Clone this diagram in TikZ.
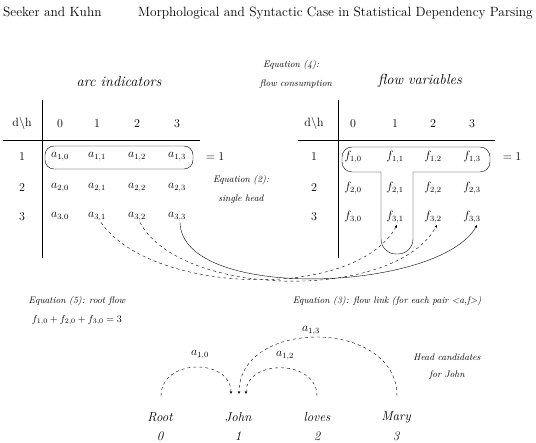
\documentclass[tikz,border=0pt]{standalone}
\usepackage{fontspec}
\usetikzlibrary{arrows.meta}
\begin{document}
\begin{tikzpicture}[x=1pt,y=-1pt,
  lbl/.style={font=\fontsize{9.5}{11}\selectfont\itshape, inner sep=0pt},
  ttl/.style={font=\fontsize{14.5}{17}\selectfont\itshape, inner sep=0pt},
  cell/.style={font=\fontsize{11.5}{13}\selectfont, inner sep=1pt},
  hd/.style={font=\fontsize{12}{14}\selectfont, inner sep=1pt},
  word/.style={font=\fontsize{13}{15}\selectfont\itshape, inner sep=1pt},
  eqtxt/.style={font=\fontsize{10}{12}\selectfont, inner sep=0pt},
  hdr/.style={font=\fontsize{13.4}{15}\selectfont, inner sep=0pt},
  link/.style={-{Stealth[length=3pt,width=2.5pt]}, thin},
  dlink/.style={link, dashed},
  rule/.style={thin},
]
\useasboundingbox (0,0) rectangle (536,443);

% header
\node[anchor=base west, hdr] (hleft) at (3,17) {Seeker and Kuhn};
\node[anchor=base east, hdr] (hright) at (533,17) {Morphological and Syntactic Case in Statistical Dependency Parsing};

% titles
\node[ttl] (arctitle) at (119,82) {arc indicators};
\node[ttl] (flowtitle) at (420,81) {flow variables};
\node[lbl] (eq4a) at (291,65) {Equation (4):};
\node[lbl] (eq4b) at (296,84) {flow consumption};
\node[lbl] (eq2a) at (241,180) {Equation (2):};
\node[lbl] (eq2b) at (241,199) {single head};

% left table
\draw[rule] (42,100) -- (42,258);
\draw[rule] (3,140) -- (200,140);
\node[hd] (adh) at (22,124) {d\textbackslash h};
\foreach \c/\x in {0/60,1/97,2/137,3/177} {
  \node[hd] (ac\c) at (\x,124) {\c};
}
\foreach \r/\y in {1/157,2/188,3/217} {
  \node[hd] (ar\r) at (22,\y) {\r};
  \foreach \c/\x in {0/60,1/97,2/137,3/177} {
    \node[cell] (a\r\c) at (\x,\y) {$a_{\r,\c}$};
  }
}
\draw[rule, rounded corners=9pt] (45,146) rectangle (193,169);
\node[cell] (aeq) at (215,157) {$=1$};

% right table
\draw[rule] (338,100) -- (338,258);
\draw[rule] (298,140) -- (495,140);
\node[hd] (fdh) at (314,124) {d\textbackslash h};
\foreach \c/\x in {0/353,1/395,2/433,3/472} {
  \node[hd] (fc\c) at (\x,124) {\c};
}
\foreach \r/\y in {1/157,2/188,3/217} {
  \node[hd] (fr\r) at (314,\y) {\r};
  \foreach \c/\x in {0/353,1/395,2/433,3/472} {
    \node[cell] (f\r\c) at (\x,\y) {$f_{\r,\c}$};
  }
}
\draw[rule] (381,172) [rounded corners=10pt] -- (342,172) -- (342,147) -- (490,147) -- (490,172) [sharp corners] -- (413,172)
  [rounded corners=15pt] -- (413,254) -- (381,254) [sharp corners] -- cycle;
\node[cell] (feq) at (512,157) {$=1$};

% flow links
\coordinate (s31) at ([xshift=4pt]a31.south);
\coordinate (s32) at ([xshift=3pt]a32.south);
\coordinate (s33) at ([xshift=3pt]a33.south);
\coordinate (t31) at ([xshift=2pt,yshift=-1pt]f31.south);
\coordinate (t32) at ([xshift=4pt,yshift=-1pt]f32.south);
\coordinate (t33) at ([xshift=5pt,yshift=-1pt]f33.south);
\draw[dlink] (s31) .. controls (150,294) and (355,302) .. (t31);
\draw[dlink] (s32) .. controls (180,298) and (395,302) .. (t32);
\draw[link] (s33) .. controls (182,302) and (440,292) .. (t33);

% equations
\node[lbl] (eq5) at (77,301) {Equation (5): root flow};
\node[eqtxt] (eq5f) at (77,320) {$f_{1,0}+f_{2,0}+f_{3,0}=3$};
\node[lbl] (eq3) at (387,301) {Equation (3): flow link (for each pair <a,f>)};

% sentence
\node[word] (root) at (160,417) {Root};
\node[word] (john) at (238,417) {John};
\node[word] (loves) at (317,417) {loves};
\node[word] (mary) at (396,417) {Mary};
\node[word] (n0) at (160,436) {0};
\node[word] (n1) at (238,436) {1};
\node[word] (n2) at (317,436) {2};
\node[word] (n3) at (396,436) {3};

\coordinate (jl) at (231,394);
\coordinate (jm) at (239,394);
\coordinate (jr) at (246,394);
\coordinate (rtop) at (161,396);
\coordinate (ltop) at (317,396);
\coordinate (mtop) at (397,396);

\draw[dlink] (rtop) .. controls (161,358) and (231,358) .. (jl);
\draw[dlink] (ltop) .. controls (317,359) and (246,359) .. (jr);
\draw[dlink] (mtop) .. controls (397,318) and (239,318) .. (jm);

\node[cell] (l10) at (200,355) {$a_{1,0}$};
\node[cell] (l12) at (285,356) {$a_{1,2}$};
\node[cell] (l13) at (311,331) {$a_{1,3}$};

\node[lbl] (hc1) at (447,357) {Head candidates};
\node[lbl] (hc2) at (447,375) {for John};
\end{tikzpicture}
\end{document}
